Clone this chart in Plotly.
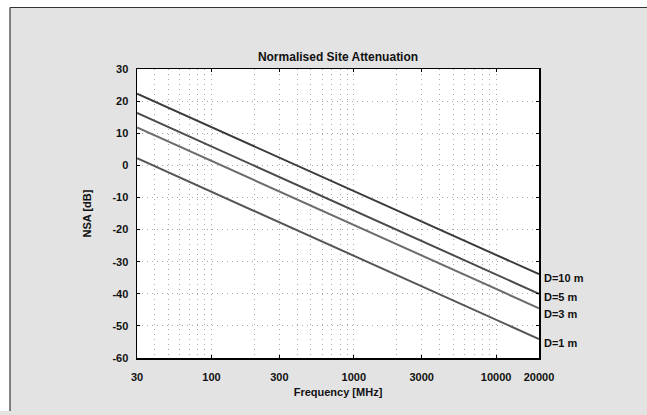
import plotly.graph_objects as go

# ---- data ----
freq_mhz = [30, 100, 300, 1000, 3000, 10000, 20000]
nsa_d10 = [22.3, 11.9, 2.3, -8.1, -17.7, -28.0, -33.9]
nsa_d5 = [16.3, 5.9, -3.7, -14.1, -23.7, -34.1, -40.0]
nsa_d3 = [11.8, 1.4, -8.2, -18.6, -28.2, -38.6, -44.5]
nsa_d1 = [2.2, -8.2, -17.8, -28.2, -37.8, -48.2, -54.1]
series_names = ["D=10 m", "D=5 m", "D=3 m", "D=1 m"]
x_tick_vals = [30, 100, 300, 1000, 3000, 10000, 20000]
x_tick_text = ["30", "100", "300", "1000", "3000", "10000", "20000"]
y_tick_vals = [-60, -50, -40, -30, -20, -10, 0, 10, 20, 30]
y_tick_text = ["-60", "-50", "-40", "-30", "-20", "-10", "0", "10", "20", "30"]

# ---- styles ----
line_colors = ["#3a3a3a", "#4a4a4a", "#6c6c6c", "#555555"]
label_yshift = [-4, -3, -6, -4]
FONT = "Liberation Sans, Arial, sans-serif"
BG = "#e3e3e3"
W, H = 647, 411  # slightly shorter than the window so no scrollbar appears
L, R, T, B = 137, 539, 69, 358  # plot area in px

minor_vals = []
for dec in [10, 100, 1000, 10000]:
    for k in range(2, 10):
        v = k * dec
        if 30 < v < 20000:
            minor_vals.append(v)

fig = go.Figure()
all_series = [nsa_d10, nsa_d5, nsa_d3, nsa_d1]
for name, ys, col in zip(series_names, all_series, line_colors):
    fig.add_trace(go.Scatter(x=freq_mhz, y=ys, mode="lines", name=name,
                             line=dict(color=col, width=2), showlegend=False))

for name, ys, dy in zip(series_names, all_series, label_yshift):
    fig.add_annotation(x=1, xref="paper", y=ys[-1], yref="y", text=f"<b>{name}</b>",
                       showarrow=False, xanchor="left", yanchor="middle",
                       xshift=3, yshift=dy, font=dict(family=FONT, size=11, color="#111"))

def px_x(p):
    return (p - L) / (R - L)

def px_y(p):
    return (B - p) / (B - T)

# white strips above and left of the grey frame, then the frame's border lines
fig.add_shape(type="rect", xref="paper", yref="paper", layer="below",
              x0=px_x(-5), x1=px_x(W + 20), y0=px_y(7.5), y1=px_y(-5),
              fillcolor="white", line=dict(width=0))
fig.add_shape(type="rect", xref="paper", yref="paper", layer="below",
              x0=px_x(-5), x1=px_x(10), y0=px_y(H + 20), y1=px_y(-5),
              fillcolor="white", line=dict(width=0))
fig.add_shape(type="line", xref="paper", yref="paper", layer="below",
              x0=px_x(10), x1=px_x(W + 20), y0=px_y(7.5), y1=px_y(7.5),
              line=dict(color="#333333", width=1.2))
fig.add_shape(type="line", xref="paper", yref="paper", layer="below",
              x0=px_x(10), x1=px_x(10), y0=px_y(7.5), y1=px_y(H + 20),
              line=dict(color="#333333", width=1.2))
# white plot area
fig.add_shape(type="rect", xref="paper", yref="paper", layer="below",
              x0=0, x1=1, y0=0, y1=1, fillcolor="white", line=dict(width=0))

grid_dash = "1px,4px"
fig.update_xaxes(type="log", range=[1.4771212547, 4.3010299957],
                 tickvals=x_tick_vals, ticktext=x_tick_text,
                 ticks="inside", ticklen=3, tickcolor="black",
                 showline=True, linecolor="black", linewidth=1.5, mirror="ticks",
                 showgrid=True, gridcolor="#a8a8a8", griddash=grid_dash, gridwidth=1,
                 minor=dict(tickvals=minor_vals, showgrid=True, gridcolor="#a8a8a8",
                            griddash=grid_dash, ticks=""),
                 tickfont=dict(family=FONT, size=11, color="#111", weight="bold"),
                 ticklabelstandoff=8, zeroline=False,
                 title=dict(text="<b>Frequency [MHz]</b>", standoff=6,
                            font=dict(family=FONT, size=11, color="#111")))
fig.update_yaxes(range=[-60, 30], tickvals=y_tick_vals, ticktext=y_tick_text,
                 ticks="inside", ticklen=3, tickcolor="black",
                 showline=True, linecolor="black", linewidth=1.5, mirror="ticks",
                 showgrid=True, gridcolor="#a8a8a8", griddash=grid_dash, gridwidth=1,
                 tickfont=dict(family=FONT, size=11, color="#111", weight="bold"),
                 ticklabelstandoff=5, zeroline=False,
                 title=dict(text="<b>NSA [dB]</b>", standoff=18,
                            font=dict(family=FONT, size=11, color="#111")))

fig.update_layout(
    width=W, height=H,
    margin=dict(l=L, r=W - R, t=T, b=H - B, autoexpand=False),
    paper_bgcolor=BG, plot_bgcolor="white",
    title=dict(text="<b>Normalised Site Attenuation</b>", x=0.5, xref="paper",
               xanchor="center", y=1 - 57 / H, yanchor="middle",
               font=dict(family=FONT, size=12, color="#111")),
)

fig.write_html("out.html",
               config={"displayModeBar": False, "staticPlot": True},
               post_script="document.body.style.margin='0';"
                           "document.body.style.background='" + BG + "';"
                           "document.body.style.overflow='hidden';"
                           "document.documentElement.style.overflow='hidden';")
